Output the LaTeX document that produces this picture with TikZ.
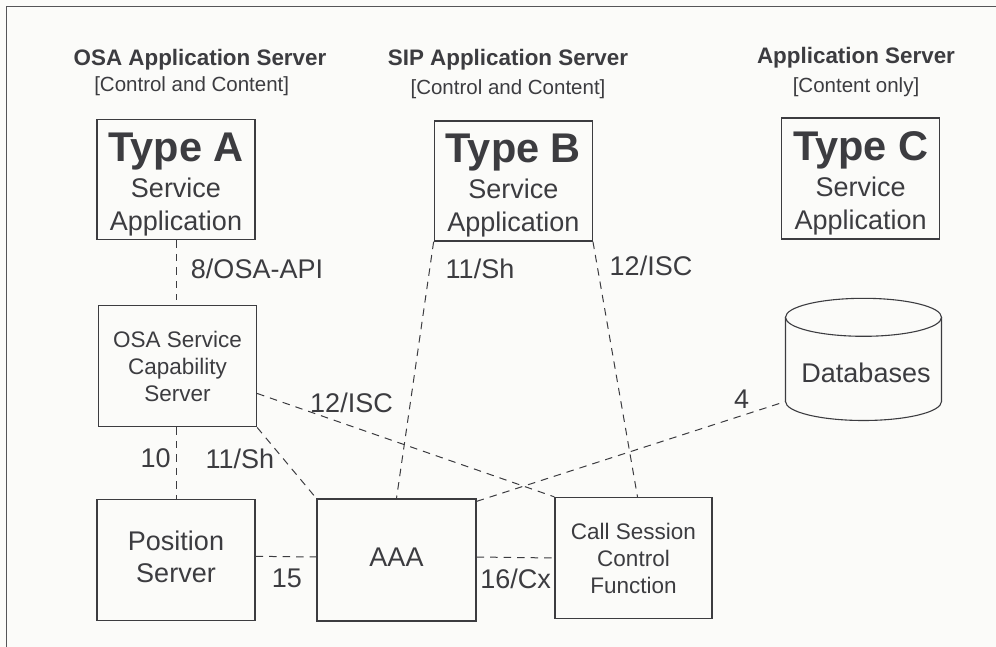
\documentclass[tikz,border=0pt]{standalone}
\usepackage{fontspec}
\usetikzlibrary{calc}
\setmainfont{Liberation Sans}
\definecolor{ink}{HTML}{3C3C40}
\definecolor{frame}{HTML}{555558}
\definecolor{paper}{HTML}{FBFBF9}
\tikzset{
  box/.style={draw=ink,line width=1.3pt,fill=paper,inner sep=0pt,align=center,text=ink},
  link/.style={draw=ink,line width=1pt,dash pattern=on 7.5pt off 6pt},
  lbl/.style={text=ink,font=\fontsize{27}{32}\selectfont,inner sep=0pt,anchor=center},
  head/.style={text=ink,font=\fontsize{22.4}{26}\selectfont\bfseries,inner sep=0pt},
  sub/.style={text=ink,font=\fontsize{20.5}{24}\selectfont,inner sep=0pt},
  svc/.style={font=\fontsize{27}{33}\selectfont,minimum width=158pt,minimum height=120pt},
  small/.style={font=\fontsize{22.5}{27}\selectfont},
}
\newcommand{\typebox}[1]{\rule{0pt}{38pt}{\fontsize{41.5}{40}\selectfont\bfseries Type #1}\\[3pt]Service\\Application}
\begin{document}
\begin{tikzpicture}[x=1pt,y=-1pt]
\useasboundingbox[fill=paper] (0,0) rectangle (996,647);
\draw[frame,line width=1.5pt] (6.5,647) -- (6.5,6.5) -- (996,6.5);
\node[head] (h1) at (200,60) {OSA Application Server};
\node[sub] (s1) at (191.7,86) {[Control and Content]};
\node[head] (h2) at (508,60) {SIP Application Server};
\node[sub] (s2) at (508,89) {[Control and Content]};
\node[head] (h3) at (856,58) {Application Server};
\node[sub] (s3) at (856,87) {[Content only]};
\node[box,svc] (A) at (176,179.7) {\typebox{A}};
\node[box,svc] (B) at (513.3,181) {\typebox{B}};
\node[box,svc,minimum height=121pt] (C) at (860.7,178.5) {\typebox{C}};
\node[box,small,minimum width=158pt,minimum height=121pt] (O) at (177.5,366.3) {OSA Service\\Capability\\Server};
\node[box,font=\fontsize{27}{32}\selectfont,minimum width=158pt,minimum height=121pt] (P) at (176,560.3) {Position\\\rule[-8pt]{0pt}{8pt}Server};
\node[box,font=\fontsize{27}{32}\selectfont,minimum width=159pt,minimum height=122pt] (M) at (396.5,560) {\rule[-6pt]{0pt}{6pt}AAA};
\node[box,small,minimum width=157pt,minimum height=121pt] (F) at (633.5,558) {Call Session\\Control\\Function};
% database
\coordinate (dbl) at (785.5,401.5);
\draw[ink,line width=1.1pt,fill=paper] (785.5,317) -- (dbl) arc[start angle=180,end angle=360,x radius=78pt,y radius=19pt] -- (941.5,317);
\draw[ink,line width=1.1pt,fill=paper] (863.5,317.3) ellipse[x radius=78pt,y radius=19pt];
\node[text=ink,font=\fontsize{27}{32}\selectfont,inner sep=0pt] (D) at (866,373) {Databases};
% links
\draw[link,shorten >=5pt] (A.south) -- (O.north -| A.south);
\draw[link] (B.south west) -- (M.north);
\draw[link] (B.south east) -- ($(F.north)+(4,0)$);
\draw[link] ($(O.south east)+(0,-34)$) -- (F.north west);
\draw[link] (O.south east) -- (M.north west);
\draw[link] (O.south -| P.north) -- (P.north);
\draw[link] ($(P.east)+(0,-4)$) -- ($(M.west)+(0,-3)$);
\draw[link] ($(M.east)+(0,-3)$) -- (F.west);
\draw[link] ($(M.north east)+(0,3)$) -- (dbl);
% labels
\node[lbl] (l1) at (257,269) {8/OSA-API};
\node[lbl] (l2) at (480,269) {11/Sh};
\node[lbl] (l3) at (651,265.7) {12/ISC};
\node[lbl] (l4) at (351.5,402.7) {12/ISC};
\node[lbl] (l5) at (155.6,458.7) {10};
\node[lbl] (l6) at (239.8,458.7) {11/Sh};
\node[lbl] (l7) at (287,578) {15};
\node[lbl] (l8) at (515.7,579) {16/Cx};
\node[lbl] (l9) at (741.7,399) {4};
\end{tikzpicture}
\end{document}
